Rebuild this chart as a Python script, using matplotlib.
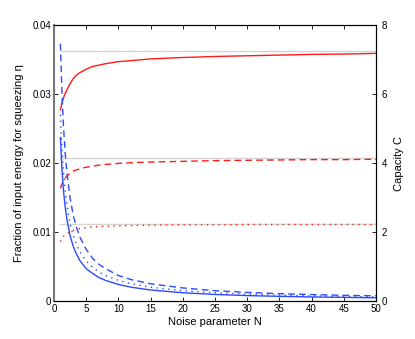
import matplotlib
matplotlib.use("Agg")
import matplotlib.pyplot as plt

plt.rcParams['font.family'] = ['Liberation Sans', 'DejaVu Sans']

# noise parameter
N = [1, 1.25, 1.5, 1.75, 2, 2.5, 3, 3.5, 4, 5, 6, 7, 8, 10, 12, 15, 20, 25, 30, 35, 40, 45, 50]

# fraction of input energy for squeezing (left axis)
eta_solid = [0.0237, 0.0190, 0.0158, 0.0136, 0.0119, 0.0095, 0.0079, 0.0068, 0.0059,
             0.0047, 0.0040, 0.0034, 0.0030, 0.0024, 0.0020, 0.0016, 0.0012, 0.00095,
             0.00079, 0.00068, 0.00059, 0.00053, 0.00047]
eta_dotted = [0.0270, 0.0218, 0.0185, 0.0159, 0.0140, 0.0112, 0.0095, 0.0082, 0.0072,
              0.0058, 0.0049, 0.0042, 0.0037, 0.0030, 0.0025, 0.0020, 0.0015, 0.0012,
              0.0010, 0.00086, 0.00075, 0.00067, 0.00060]
eta_dashed = [0.0373, 0.0300, 0.0250, 0.0214, 0.0187, 0.0150, 0.0124, 0.0107, 0.0093,
              0.0075, 0.0062, 0.0053, 0.0047, 0.0037, 0.0031, 0.0025, 0.0019, 0.0015,
              0.00125, 0.00107, 0.00094, 0.00083, 0.00075]

# capacity (right axis)
cap_solid = [5.54, 5.74, 5.90, 6.02, 6.12, 6.30, 6.45, 6.55, 6.62, 6.72, 6.80, 6.84,
             6.88, 6.94, 6.97, 7.02, 7.06, 7.09, 7.11, 7.13, 7.15, 7.16, 7.18]
cap_dashed = [3.27, 3.40, 3.50, 3.57, 3.62, 3.70, 3.77, 3.80, 3.83, 3.88, 3.91, 3.94,
              3.96, 3.99, 4.01, 4.03, 4.05, 4.07, 4.08, 4.09, 4.10, 4.10, 4.11]
cap_dotted = [1.72, 1.81, 1.88, 1.92, 1.96, 2.01, 2.05, 2.08, 2.10, 2.13, 2.15, 2.16,
              2.17, 2.18, 2.19, 2.20, 2.21, 2.21, 2.22, 2.22, 2.22, 2.22, 2.22]

# limiting capacities (gray lines)
cap_limits = [7.25, 4.14, 2.24]
lim_range = [1, 50]

blue = '#2b4bff'
red = '#ff1a1a'
dash = (4.8, 3.0)
dot = (1.0, 3.2)

fig = plt.figure(figsize=(4.15, 3.39), dpi=100)
ax = fig.add_axes([0.130, 0.112, 0.776, 0.814])
ax2 = ax.twinx()

for c in cap_limits:
    ax2.plot(lim_range, [c, c], color='#d4d4d0', lw=1.0, zorder=1)
ax2.plot(N, cap_solid, color=red, lw=1.0)
ax2.plot(N, cap_dashed, color=red, lw=1.0, dashes=dash)
ax2.plot(N, cap_dotted, color=red, lw=1.0, dashes=dot)

ax.plot(N, eta_solid, color=blue, lw=1.0)
ax.plot(N, eta_dotted, color=blue, lw=1.0, dashes=dot)
ax.plot(N, eta_dashed, color=blue, lw=1.0, dashes=dash)
ax.set_zorder(ax2.get_zorder() + 1)
ax.patch.set_visible(False)

ax.set_xlim(0, 50)
ax.set_ylim(0, 0.04)
ax2.set_ylim(0, 8)
ax.set_xticks(range(0, 51, 5))
ax.set_yticks([0, 0.01, 0.02, 0.03, 0.04])
ax.set_yticklabels(['0', '0.01', '0.02', '0.03', '0.04'])
ax2.set_yticks([0, 2, 4, 6, 8])

ax.tick_params(direction='in', length=3, width=0.6, labelsize=7, top=True, pad=2)
ax2.tick_params(direction='in', length=3, width=0.6, labelsize=7, pad=4)
for a in (ax, ax2):
    for s in a.spines.values():
        s.set_linewidth(0.8)
ax.spines['left'].set_color('#777777')
ax.spines['left'].set_linewidth(1.5)
ax2.spines['left'].set_visible(False)

ax.set_xlabel('Noise parameter N', fontsize=8, labelpad=2)
ax.set_ylabel('Fraction of input energy for squeezing η', fontsize=8, labelpad=6)
ax2.set_ylabel('Capacity C', fontsize=8, labelpad=5)

fig.savefig('out.png', dpi=100)
